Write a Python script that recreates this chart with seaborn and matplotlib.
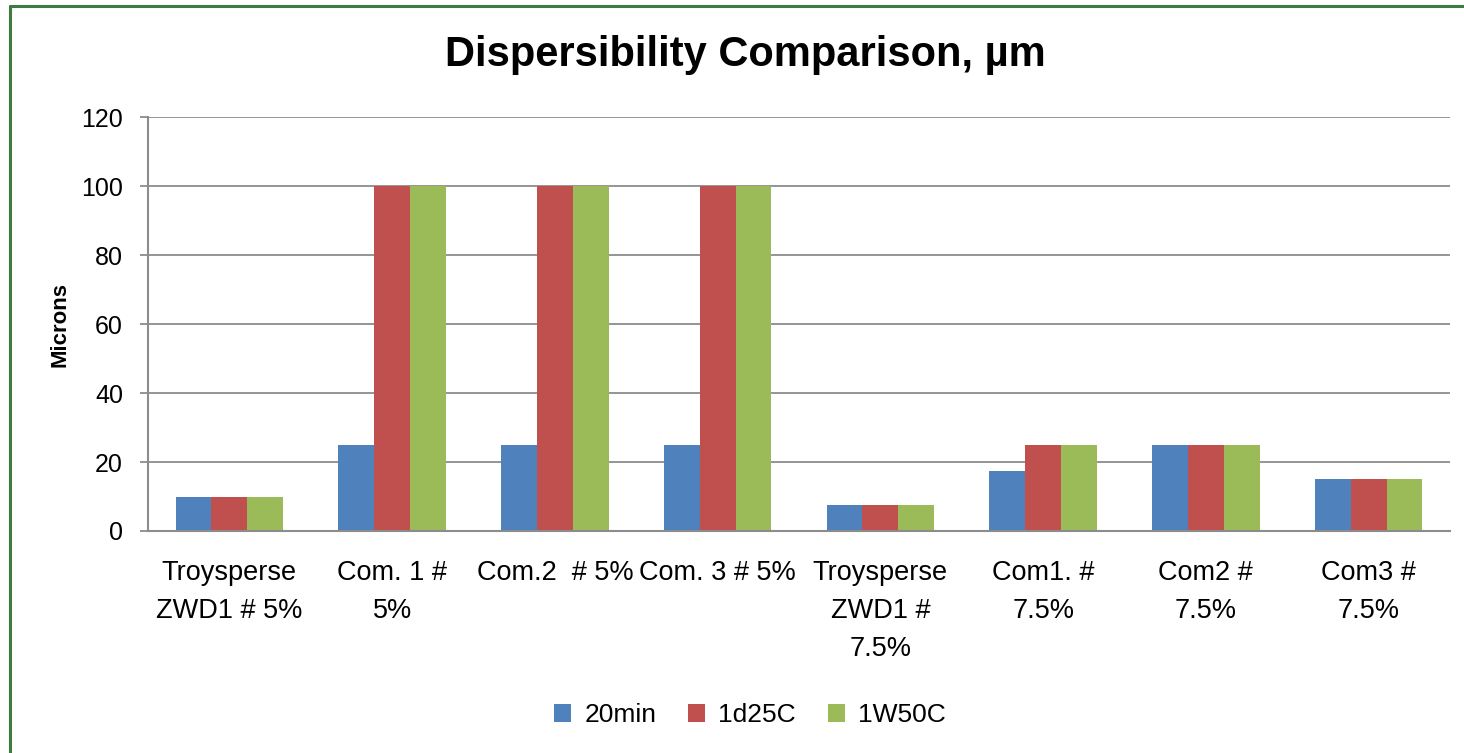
import matplotlib
matplotlib.use("Agg")
import matplotlib.pyplot as plt
import seaborn as sns
import pandas as pd
from matplotlib.patches import Patch
from matplotlib.lines import Line2D

categories = ["Troysperse\nZWD1 # 5%", "Com. 1 #\n5%", "Com.2  # 5%", "Com. 3 # 5%",
              "Troysperse\nZWD1 #\n7.5%", "Com1. #\n7.5%", "Com2 #\n7.5%", "Com3 #\n7.5%"]
series_names = ["20min", "1d25C", "1W50C"]
v_20min = [10, 25, 25, 25, 7.5, 17.5, 25, 15]
v_1d25c = [10, 100, 100, 100, 7.5, 25, 25, 15]
v_1w50c = [10, 100, 100, 100, 7.5, 25, 25, 15]
colors = ["#4F81BD", "#C0504D", "#9BBB59"]
yticks = [0, 20, 40, 60, 80, 100, 120]

sns.set_theme(style="white")
plt.rcParams['font.family'] = ['Liberation Sans', 'DejaVu Sans']
plt.rcParams['text.color'] = 'black'

rows = []
for s, vals in zip(series_names, [v_20min, v_1d25c, v_1w50c]):
    for c, v in zip(categories, vals):
        rows.append({"cat": c, "series": s, "val": v})
df = pd.DataFrame(rows)

fig = plt.figure(figsize=(14.64, 7.53), dpi=100)
ax = fig.add_axes([148/1464, 1-531/753, (1450-148)/1464, (531-117)/753])
sns.barplot(data=df, x="cat", y="val", hue="series", palette=colors, saturation=1,
            width=0.66, ax=ax, legend=False, edgecolor="none")

ax.set_ylim(0, 120)
ax.set_yticks(yticks)
ax.set_xlim(-0.5, len(categories) - 0.5)
ax.yaxis.grid(True, color="#8C8C8C", linewidth=1.3)
ax.set_axisbelow(True)
for side in ["top", "right"]:
    ax.spines[side].set_visible(False)
for side in ["left", "bottom"]:
    ax.spines[side].set_color("#8C8C8C")
    ax.spines[side].set_linewidth(1.5)
ax.tick_params(axis="y", left=True, length=6, width=1.3, color="#8C8C8C", labelsize=18,
               pad=12, labelcolor="black")
ax.tick_params(axis="x", bottom=False, labelsize=19.5, pad=15, labelcolor="black")
ax.set_xlabel("")
ax.set_ylabel("Microns", fontsize=16, fontweight="bold", labelpad=8, color="black")
for lbl in ax.get_xticklabels():
    lbl.set_linespacing(1.6)
    lbl.set_verticalalignment("top")

fig.suptitle("Dispersibility Comparison, µm", x=745/1464, y=1-55/753, va="center",
             fontsize=30, fontweight="bold", color="black")

handles = [Patch(facecolor=c, edgecolor="none") for c in colors]
fig.legend(handles, series_names, loc="center", bbox_to_anchor=(750/1464, 1-715/753),
           ncol=3, frameon=False, fontsize=19, handlelength=0.65, handleheight=0.65,
           columnspacing=1.2, handletextpad=0.5)

fig.add_artist(Line2D([9.5/1464, 9.5/1464], [0, 1-5.5/753], transform=fig.transFigure,
                      color="#3E7B3E", linewidth=2.2))
fig.add_artist(Line2D([9.5/1464, 1], [1-5.5/753, 1-5.5/753], transform=fig.transFigure,
                      color="#3E7B3E", linewidth=2.2))

fig.savefig("out.png", dpi=100)
